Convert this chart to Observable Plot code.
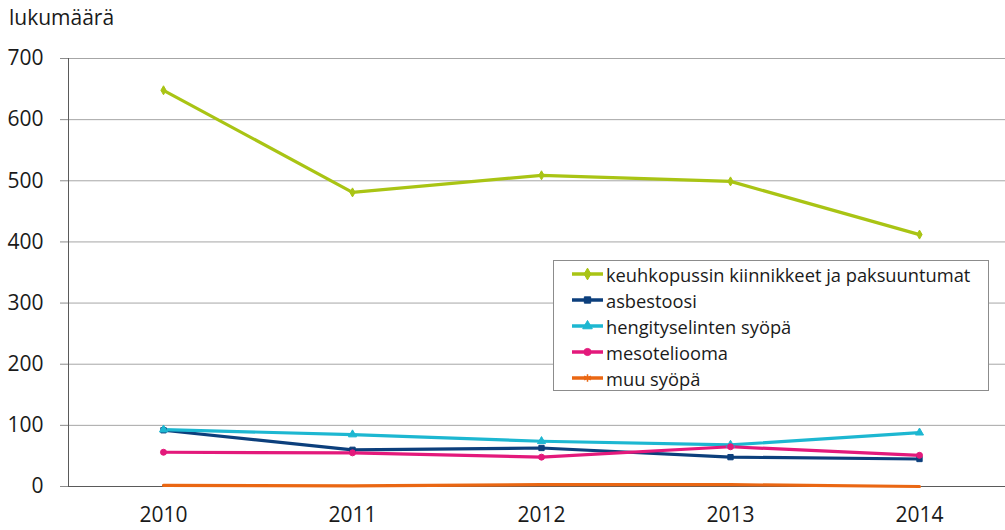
<!DOCTYPE html>
<html><head><meta charset="utf-8">
<script src="https://cdn.jsdelivr.net/npm/d3@7"></script>
<script src="https://cdn.jsdelivr.net/npm/@observablehq/plot@0.6"></script>
<style>
body{margin:0;background:#fff;font-family:"Open Sans",sans-serif}
#wrap{position:relative;width:1005px;height:530px;overflow:hidden}
#title{position:absolute;left:9px;top:3px;font-size:21px;color:#1a1a1a}
#legend{position:absolute;left:553px;top:260px;width:436px;height:131px;border:1px solid #8c8c8c;background:#fff;box-sizing:border-box;padding-top:0}
.row{display:flex;align-items:center;height:26px;font-size:18.3px;color:#1a1a1a;white-space:nowrap}
.row svg{margin-left:18px;margin-right:3px}
</style></head>
<body>
<div id="wrap"><div id="title">lukumäärä</div><div id="chart"></div><div id="legend"></div></div>
<script>
const years = ["2010","2011","2012","2013","2014"];
const seriesNames = ["keuhkopussin kiinnikkeet ja paksuuntumat","asbestoosi","hengityselinten syöpä","mesoteliooma","muu syöpä"];
const keuhkopussin = [648,481,509,499,412];
const asbestoosi = [92,60,63,48,45];
const hengityselinten = [93,85,74,68,88];
const mesoteliooma = [56,55,48,65,51];
const muuSyopa = [2,1,3,3,0];
const yTicks = [0,100,200,300,400,500,600,700];
const colors = ["#a9c414","#0c3f7c","#1db7d1","#e3197b","#ea6713"];
const symbols = ["diamond","square","triangle","circle","asterisk"];
const allValues = [keuhkopussin,asbestoosi,hengityselinten,mesoteliooma,muuSyopa];

const data = [];
seriesNames.forEach((s,i)=>years.forEach((y,j)=>data.push({series:s,year:y,value:allValues[i][j]})));

const chart = Plot.plot({
  width:1005,height:530,
  marginLeft:68,marginRight:0,marginTop:58,marginBottom:44,
  style:{fontFamily:"'Open Sans',sans-serif",fontSize:"21px",color:"#1a1a1a",background:"#fff"},
  x:{type:"point",domain:years,range:[162,919],padding:0,label:null},
  y:{domain:[0,700],ticks:yTicks,label:null},
  color:{domain:seriesNames,range:colors},
  symbol:{domain:seriesNames,range:symbols},
  marks:[
    Plot.ruleY(yTicks.filter(d=>d>0),{stroke:"#a6a6a6",strokeWidth:1}),
    Plot.ruleY([0],{stroke:"#5a5a5a",strokeWidth:1}),
    Plot.axisY({ticks:yTicks,tickSize:8,tickPadding:17,stroke:"#8c8c8c",fontSize:21,tickFormat:d=>String(d)}),
    Plot.axisX({tickSize:0,tickPadding:21,fontSize:21}),
    Plot.line(data,{x:"year",y:"value",z:"series",stroke:"series",strokeWidth:3.2}),
    Plot.dot(data,{x:"year",y:"value",symbol:"series",fill:d=>d.series==="muu syöpä"?"none":d.series,stroke:"series",strokeWidth:d=>d.series==="muu syöpä"?2:1,r:d=>d.series==="keuhkopussin kiinnikkeet ja paksuuntumat"?4:4.8})
  ]
});
const svg = d3.select(chart);
svg.append("line").attr("x1",68.5).attr("x2",68.5).attr("y1",58).attr("y2",486).attr("stroke","#5a5a5a");
document.getElementById("chart").appendChild(chart);

const legend = d3.select("#legend");
const symMap = {diamond:d3.symbolDiamond,square:d3.symbolSquare,triangle:d3.symbolTriangle,circle:d3.symbolCircle,asterisk:d3.symbolAsterisk};
seriesNames.forEach((s,i)=>{
  const row = legend.append("div").attr("class","row");
  const sv = row.append("svg").attr("width",31).attr("height",26);
  sv.append("line").attr("x1",0).attr("x2",31).attr("y1",13).attr("y2",13).attr("stroke",colors[i]).attr("stroke-width",3.5);
  const isAst = symbols[i]==="asterisk";
  sv.append("path").attr("transform","translate(15.5,13)").attr("d",d3.symbol(symMap[symbols[i]],40)())
    .attr("fill",isAst?"none":colors[i]).attr("stroke",colors[i]).attr("stroke-width",isAst?1.5:1);
  row.append("span").text(s);
});
</script>
</body></html>
